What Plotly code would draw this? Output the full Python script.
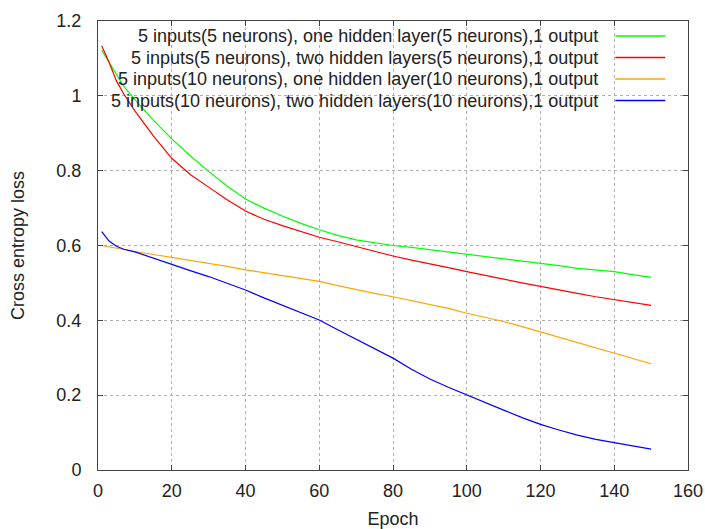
import plotly.graph_objects as go

# ---- data ----
epoch_a = [1, 3, 5, 7, 10, 15, 20, 25, 30, 35, 40, 45, 50, 55, 60, 65, 70, 75, 80, 85, 90,
           95, 100, 105, 110, 115, 120, 125, 130, 135, 140, 145, 150]

loss_5_one = [1.122, 1.090, 1.055, 1.025, 0.990, 0.935, 0.885, 0.840, 0.798, 0.759, 0.724,
              0.700, 0.679, 0.659, 0.642, 0.627, 0.615, 0.607, 0.600, 0.595, 0.589, 0.584,
              0.578, 0.572, 0.566, 0.560, 0.553, 0.546, 0.539, 0.535, 0.530, 0.522, 0.515]

loss_5_two = [1.134, 1.090, 1.040, 1.005, 0.960, 0.893, 0.833, 0.790, 0.756, 0.722, 0.692,
              0.670, 0.653, 0.637, 0.622, 0.610, 0.597, 0.585, 0.572, 0.561, 0.552, 0.541,
              0.530, 0.519, 0.510, 0.500, 0.490, 0.480, 0.472, 0.463, 0.456, 0.448, 0.440]

loss_10_one = [0.600, 0.596, 0.592, 0.589, 0.584, 0.576, 0.568, 0.561, 0.553, 0.544, 0.535,
               0.527, 0.518, 0.511, 0.504, 0.493, 0.482, 0.472, 0.463, 0.453, 0.444, 0.432,
               0.419, 0.408, 0.397, 0.383, 0.369, 0.354, 0.339, 0.326, 0.312, 0.298, 0.284]

loss_10_two = [0.637, 0.612, 0.598, 0.590, 0.583, 0.566, 0.548, 0.533, 0.517, 0.499, 0.481,
               0.460, 0.440, 0.421, 0.401, 0.375, 0.349, 0.324, 0.299, 0.269, 0.243, 0.221,
               0.200, 0.179, 0.160, 0.140, 0.122, 0.107, 0.093, 0.082, 0.073, 0.063, 0.056]

series_names = [
    "5 inputs(5 neurons), one hidden layer(5 neurons),1 output",
    "5 inputs(5 neurons), two hidden layers(5 neurons),1 output",
    "5 inputs(10 neurons), one hidden layer(10 neurons),1 output",
    "5 inputs(10 neurons), two hidden layers(10 neurons),1 output",
]
series_values = [loss_5_one, loss_5_two, loss_10_one, loss_10_two]
series_colors = ["#00ff00", "#ff0000", "#ffa500", "#0000ff"]

x_ticks = [0, 20, 40, 60, 80, 100, 120, 140, 160]
y_ticks = [0, 0.2, 0.4, 0.6, 0.8, 1.0, 1.2]
y_tick_labels = ["0", "0.2", "0.4", "0.6", "0.8", "1", "1.2"]

FONT = "Liberation Sans, Arial, sans-serif"
FS = 18
TXT = "#222222"

fig = go.Figure()
for name, vals, col in zip(series_names, series_values, series_colors):
    fig.add_trace(go.Scatter(x=epoch_a, y=vals, mode="lines", name=name,
                             line=dict(color=col, width=1.2), showlegend=False))

# opaque key box (covers grid, lies below traces)
shapes = [dict(type="rect", xref="paper", yref="paper", x0=0.0178, x1=0.978, y0=0.795, y1=1.0,
               fillcolor="white", line=dict(width=0), layer="between")]
annotations = []
key_y = [0.9666, 0.9187, 0.8708, 0.8229]
for name, col, ky in zip(series_names, series_colors, key_y):
    annotations.append(dict(xref="paper", yref="paper", x=0.8514, y=ky, text=name,
                            showarrow=False, xanchor="right", yanchor="middle",
                            font=dict(family=FONT, size=FS, color=TXT)))
    shapes.append(dict(type="line", xref="paper", yref="paper", x0=0.8768, x1=0.9615,
                       y0=ky, y1=ky, line=dict(color=col, width=1.5), layer="above"))

axis_common = dict(showline=True, linecolor="#444444", linewidth=1, mirror="ticks",
                   ticks="inside", ticklen=5, tickcolor="#444444", tickwidth=1,
                   showgrid=True, gridcolor="#b0b0b0", gridwidth=1, griddash="dot",
                   zeroline=False, tickfont=dict(family=FONT, size=FS, color=TXT))

fig.update_layout(
    width=705, height=529,
    margin=dict(l=97.5, r=17.3, t=21, b=59, autoexpand=False),
    paper_bgcolor="white", plot_bgcolor="white",
    font=dict(family=FONT, size=FS, color=TXT),
    xaxis=dict(range=[0, 160], tickmode="array", tickvals=x_ticks,
               title=dict(text="Epoch", standoff=22, font=dict(family=FONT, size=FS, color=TXT)),
               ticklabelstandoff=4, **axis_common),
    yaxis=dict(range=[0, 1.2], tickmode="array", tickvals=y_ticks, ticktext=y_tick_labels,
               title=dict(text="Cross entropy loss", standoff=27, font=dict(family=FONT, size=FS, color=TXT)),
               ticklabelstandoff=12, **axis_common),
    shapes=shapes,
    annotations=annotations,
)

fig.write_html("out.html", config={"displayModeBar": False},
               post_script="document.body.style.margin='0px';document.body.style.padding='0px';")
